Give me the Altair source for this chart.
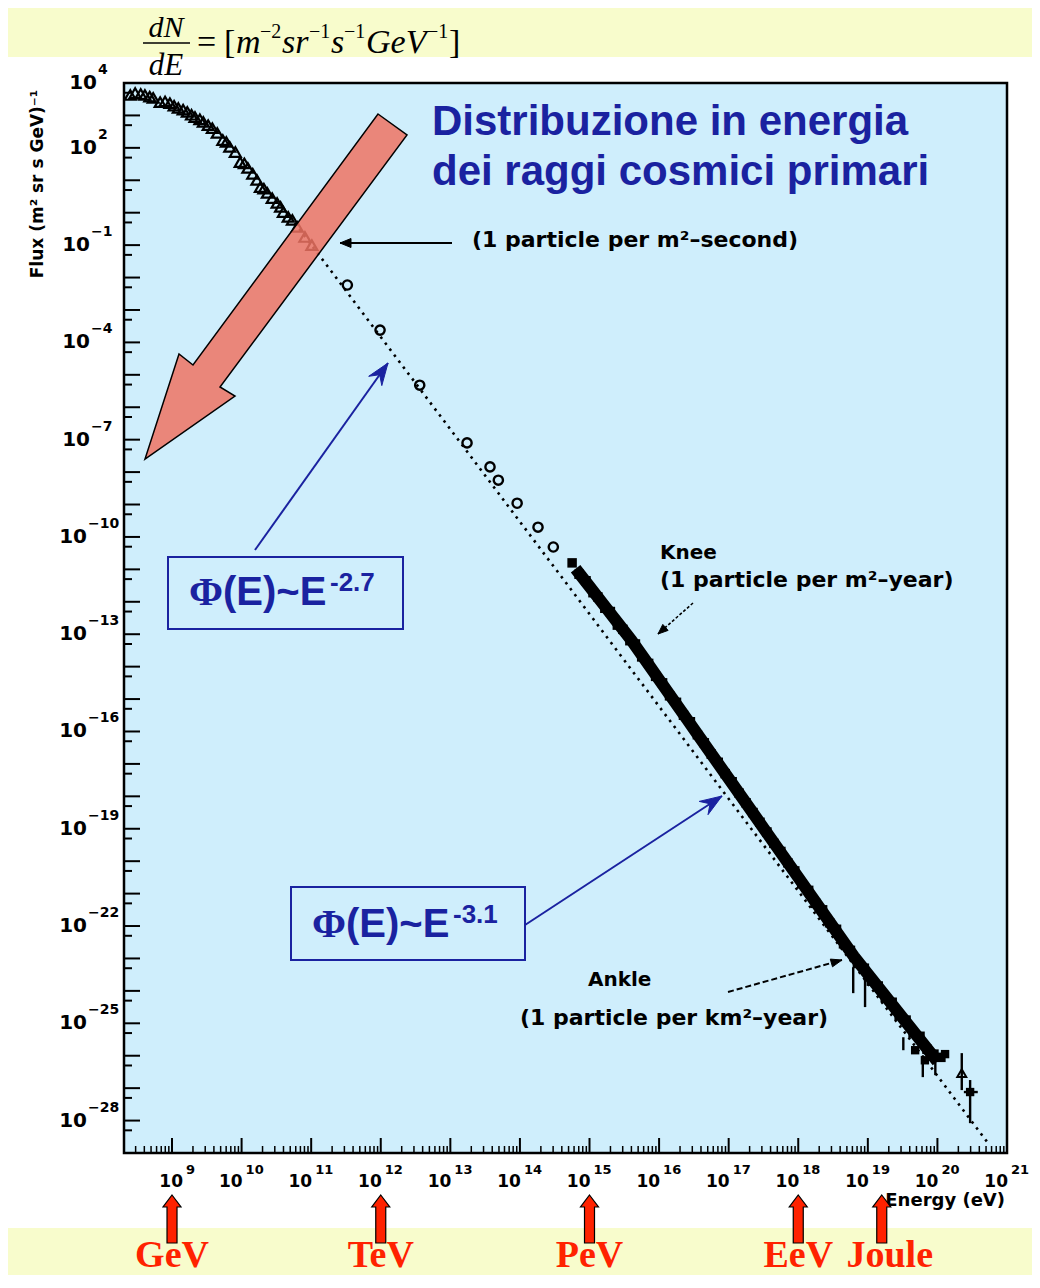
import math
import altair as alt
import pandas as pd

# ---------------- data (log10 values) ----------------
tri_logE = [8.40, 8.47, 8.55, 8.61, 8.68, 8.73, 8.83, 8.90, 8.97, 9.03, 9.09, 9.16, 9.22,
            9.28, 9.33, 9.40, 9.45, 9.52, 9.58, 9.65, 9.73, 9.78, 9.83, 9.91, 9.98,
            10.04, 10.09, 10.16, 10.22, 10.27, 10.32, 10.37, 10.44, 10.51, 10.56, 10.60,
            10.67, 10.73, 10.80, 10.91, 11.01]
tri_logF = [3.63, 3.69, 3.66, 3.63, 3.58, 3.54, 3.41, 3.43, 3.38, 3.30, 3.23, 3.18, 3.11,
            3.02, 2.95, 2.88, 2.80, 2.70, 2.61, 2.46, 2.24, 2.18, 2.03, 1.87, 1.56,
            1.52, 1.38, 1.20, 1.01, 0.79, 0.74, 0.61, 0.45, 0.30, 0.18, 0.02,
            -0.13, -0.22, -0.44, -0.75, -1.00]

circ_logE = [11.52, 11.99, 12.56, 13.24, 13.57, 13.69, 13.96, 14.26, 14.48]
circ_logF = [-2.23, -3.62, -5.32, -7.10, -7.84, -8.25, -8.96, -9.70, -10.31]

band_logE = [14.8, 15.0, 15.2, 15.4, 15.6, 15.8, 16.0, 16.2, 16.4, 16.6, 16.8, 17.0, 17.2,
             17.4, 17.6, 17.8, 18.0, 18.2, 18.4, 18.6, 18.8, 19.0, 19.2, 19.4, 19.6,
             19.8, 20.0]
band_logF = [-10.98, -11.53, -12.08, -12.63, -13.18, -13.79, -14.40, -15.01, -15.62,
             -16.23, -16.84, -17.45, -18.06, -18.67, -19.28, -19.89, -20.50, -21.11,
             -21.72, -22.33, -22.94, -23.48, -24.02, -24.56, -25.10, -25.64, -26.18]

pts_logE = [14.75, 14.85, 14.95, 15.05, 15.12, 15.22, 15.30, 15.40, 15.48, 15.58, 15.66,
            15.75, 15.85, 15.95, 16.05, 16.15, 16.25, 16.35, 16.45, 16.55, 16.65, 16.75,
            16.85, 16.95, 17.05, 17.15, 17.25, 17.35, 17.45, 17.55, 17.65, 17.75, 17.85,
            17.95, 18.05, 18.15, 18.25, 18.35, 18.45, 18.55, 18.65, 18.75, 18.85, 18.95,
            19.05, 19.15, 19.25, 19.35, 19.45, 19.55, 19.65, 19.75, 19.85, 19.95, 20.05]
pts_logF = [-10.80, -11.15, -11.35, -11.72, -11.85, -12.20, -12.30, -12.72, -12.85, -13.20,
            -13.30, -13.70, -13.90, -14.30, -14.50, -14.90, -15.10, -15.50, -15.70, -16.10,
            -16.35, -16.70, -16.95, -17.30, -17.55, -17.90, -18.20, -18.50, -18.80, -19.10,
            -19.45, -19.70, -20.05, -20.30, -20.70, -20.90, -21.30, -21.50, -21.90, -22.10,
            -22.55, -22.75, -23.15, -23.30, -23.70, -23.85, -24.20, -24.35, -24.75, -24.90,
            -25.30, -25.40, -25.80, -25.95, -26.05]

eb_logE = [18.79, 18.96, 19.51, 19.79, 19.97, 20.35, 20.47]
eb_lo = [-24.07, -24.50, -25.83, -26.66, -26.60, -27.06, -28.08]
eb_hi = [-23.27, -23.45, -25.43, -26.04, -25.92, -25.92, -26.75]

hb_lo = [19.90, 20.38]
hb_hi = [20.12, 20.58]
hb_F = [-25.98, -27.12]

hi_logE = [19.68, 19.82, 19.92, 20.11, 20.47]
hi_logF = [-25.83, -26.14, -26.02, -25.95, -27.12]
hitri_logE = [20.35]
hitri_logF = [-26.54]

fit_logE = [10.70, 20.73]
fit_logF = [-0.13, -28.70]

y_tick_exps = list(range(-28, 5))
y_label_exps = [4, 2, -1, -4, -7, -10, -13, -16, -19, -22, -25, -28]
x_label_exps = list(range(9, 22))

unit_names = ["GeV", "TeV", "PeV", "EeV", "Joule"]
unit_logE = [9, 12, 15, 18, 19.2]

# ---------------- styling ----------------
PW, PH = 883, 1070
YELLOW = "#f8fccc"
SKY = "#cfeefc"
BLUE = "#1a22a0"
RED = "#ff2200"
SALMON = "#ef7363"

xs = alt.Scale(type="log", domain=[10 ** 8.31, 1e21], nice=False)
ys = alt.Scale(type="log", domain=[1e-29, 1e4], nice=False)


def X(f="E"):
    return alt.X(f"{f}:Q", scale=xs, axis=None)


def Y(f="F"):
    return alt.Y(f"{f}:Q", scale=ys, axis=None)


one = pd.DataFrame({"k": [0]})


def df(**cols):
    return pd.DataFrame(cols)


def p10(v):
    return [10 ** a for a in v]


def rect(x1, y1, x2, y2, **kw):
    return alt.Chart(one).mark_rect(**kw).encode(
        x=alt.value(x1), y=alt.value(y1), x2=alt.value(x2), y2=alt.value(y2))


def seg(x1, y1, x2, y2, **kw):
    return alt.Chart(one).mark_rule(**kw).encode(
        x=alt.value(x1), y=alt.value(y1), x2=alt.value(x2), y2=alt.value(y2))


def shape(path, fill, stroke=None, sw=1.0, opacity=1.0):
    return alt.Chart(one).mark_point(
        shape=path, size=4, filled=True, fill=fill, stroke=stroke or fill,
        strokeWidth=sw, opacity=1, fillOpacity=opacity).encode(
        x=alt.value(0), y=alt.value(0))


def head(x1, y1, x2, y2, L=14, W=10, notch=0.0):
    dx, dy = x2 - x1, y2 - y1
    d = math.hypot(dx, dy)
    ux, uy = dx / d, dy / d
    px, py = -uy, ux
    bx, by = x2 - ux * L, y2 - uy * L
    lx, ly = bx + px * W / 2, by + py * W / 2
    rx, ry = bx - px * W / 2, by - py * W / 2
    nx, ny = x2 - ux * L * (1 - notch), y2 - uy * L * (1 - notch)
    return (f"M{x2:.1f},{y2:.1f}L{lx:.1f},{ly:.1f}L{nx:.1f},{ny:.1f}"
            f"L{rx:.1f},{ry:.1f}Z")


def txt(s, x, y, size, font="DejaVu Sans", weight="bold", color="black",
        align="left", baseline="middle", style="normal", angle=0):
    kw = dict(text=s, font=font, fontSize=size, fontWeight=weight, color=color,
              align=align, baseline=baseline, fontStyle=style)
    if angle:
        kw["angle"] = angle
    return alt.Chart(one).mark_text(**kw).encode(x=alt.value(x), y=alt.value(y))


def arrow(x1, y1, x2, y2, color, sw=1.8, L=14, W=10, notch=0.0, dash=None):
    kw = dict(color=color, strokeWidth=sw)
    if dash:
        kw["strokeDash"] = dash
    return [seg(x1, y1, x2, y2, **kw), shape(head(x1, y1, x2, y2, L, W, notch), color)]


layers = []

# panels
layers.append(rect(-116, -26, 916, 1145, color="white"))
layers.append(rect(0, 0, PW, PH, color=SKY))

# fit line (dotted)
layers.append(alt.Chart(df(E=p10(fit_logE), F=p10(fit_logF))).mark_line(
    color="black", strokeWidth=2.6, strokeDash=[2.5, 5]).encode(x=X(), y=Y()))

# data
layers.append(alt.Chart(df(E=p10(circ_logE), F=p10(circ_logF))).mark_point(
    shape="circle", size=85, filled=False, stroke="black", strokeWidth=2.4,
    opacity=1).encode(x=X(), y=Y()))
layers.append(alt.Chart(df(E=p10(tri_logE), F=p10(tri_logF))).mark_point(
    shape="triangle-up", size=120, filled=False, stroke="black", strokeWidth=2.2,
    opacity=1).encode(x=X(), y=Y()))
layers.append(alt.Chart(df(E=p10(band_logE), F=p10(band_logF))).mark_line(
    color="black", strokeWidth=12).encode(x=X(), y=Y()))
layers.append(alt.Chart(df(E=p10(pts_logE), F=p10(pts_logF))).mark_square(
    size=90, color="black", opacity=1).encode(x=X(), y=Y()))
layers.append(alt.Chart(df(E=p10(eb_logE), F=p10(eb_lo), F2=p10(eb_hi))).mark_rule(
    color="black", strokeWidth=2.4).encode(x=X(), y=Y(), y2="F2:Q"))
layers.append(alt.Chart(df(E=p10(hb_lo), E2=p10(hb_hi), F=p10(hb_F))).mark_rule(
    color="black", strokeWidth=2.4).encode(x=X(), x2="E2:Q", y=Y()))
layers.append(alt.Chart(df(E=p10(hi_logE), F=p10(hi_logF))).mark_square(
    size=70, color="black", opacity=1).encode(x=X(), y=Y()))
layers.append(alt.Chart(df(E=p10(hitri_logE), F=p10(hitri_logF))).mark_point(
    shape="triangle-up", size=80, filled=False, stroke="black", strokeWidth=2,
    opacity=1).encode(x=X(), y=Y()))

# inner ticks
layers.append(alt.Chart(df(F=[10.0 ** n for n in y_tick_exps])).mark_rule(
    color="black", strokeWidth=2).encode(y=Y(), x=alt.value(0), x2=alt.value(16)))
layers.append(alt.Chart(df(F=[5 * 10.0 ** n for n in range(-29, 4)])).mark_rule(
    color="black", strokeWidth=2).encode(y=Y(), x=alt.value(0), x2=alt.value(8)))
layers.append(alt.Chart(df(E=[10.0 ** n for n in range(9, 22)])).mark_rule(
    color="black", strokeWidth=2).encode(x=X(), y=alt.value(PH), y2=alt.value(PH - 15)))
xminor = [k * 10.0 ** n for n in range(8, 21) for k in range(2, 10)
          if 10 ** 8.32 < k * 10.0 ** n < 1e21]
layers.append(alt.Chart(df(E=xminor)).mark_rule(
    color="black", strokeWidth=1.5).encode(x=X(), y=alt.value(PH), y2=alt.value(PH - 7)))
layers.append(rect(0, 0, PW, PH, fill="transparent", stroke="black", strokeWidth=2.5))


# tick labels
def sup(n):
    return str(n).replace("-", "\u2212")


for exps, base_r in (([e for e in y_label_exps if len(sup(e)) == 1], -27),
                     ([e for e in y_label_exps if len(sup(e)) == 2], -34),
                     ([e for e in y_label_exps if len(sup(e)) == 3], -37)):
    d = df(F=[10.0 ** e for e in exps], s=[sup(e) for e in exps])
    layers.append(alt.Chart(d).mark_text(
        text="10", font="DejaVu Sans", fontWeight="bold", fontSize=20, align="right",
        baseline="middle").encode(y=Y(), x=alt.value(base_r)))
    layers.append(alt.Chart(d).mark_text(
        font="DejaVu Sans", fontWeight="bold", fontSize=14, align="left",
        baseline="middle", dy=-13).encode(y=Y(), x=alt.value(base_r + 1), text="s:N"))

for exps, bdx, edx in (([e for e in x_label_exps if e < 10], 11, 14),
                       ([e for e in x_label_exps if e >= 10], 1, 4)):
    d = df(E=[10.0 ** e for e in exps], s=[str(e) for e in exps])
    layers.append(alt.Chart(d).mark_text(
        text="10", font="DejaVu Sans", fontWeight="bold", fontSize=17, align="right",
        baseline="middle", dx=bdx).encode(x=X(), y=alt.value(1099)))
    layers.append(alt.Chart(d).mark_text(
        font="DejaVu Sans", fontWeight="bold", fontSize=13, align="left",
        baseline="middle", dx=edx).encode(x=X(), y=alt.value(1087), text="s:N"))

layers.append(txt("Energy (eV)", 881, 1118, 18, align="right"))
layers.append(txt("Flux (m\u00b2 sr s GeV)\u207b\u00b9", -86, 101, 17, align="center", angle=270))

# black annotations
layers.append(txt("(1 particle per m\u00b2\u2013second)", 348, 157, 22))
layers += arrow(328, 160, 216, 160, "black", sw=2, L=11, W=9)
layers.append(txt("Knee", 536, 470, 20))
layers.append(txt("(1 particle per m\u00b2\u2013year)", 536, 497, 22))
layers += arrow(569, 520, 534, 551, "black", sw=1.6, L=10, W=8, dash=[3, 2])
layers.append(txt("Ankle", 464, 897, 20))
layers.append(txt("(1 particle per km\u00b2\u2013year)", 396, 935, 22))
layers += arrow(604, 909, 718, 877, "black", sw=2, L=11, W=8, dash=[6, 3])

# big salmon arrow
big = [(254, 31), (283, 52), (96, 304), (111, 313), (21, 376), (55, 271), (69, 282)]
big_path = "M" + "L".join(f"{a},{b}" for a, b in big) + "Z"
layers.append(shape(big_path, SALMON, stroke="black", sw=1.5, opacity=0.85))

# blue title
layers.append(txt("Distribuzione in energia", 308, 52, 42, font="Liberation Sans",
                  color=BLUE, baseline="alphabetic"))
layers.append(txt("dei raggi cosmici primari", 308, 102, 42, font="Liberation Sans",
                  color=BLUE, baseline="alphabetic"))

# blue boxes with power laws
for (bx1, by1, bx2, by2, tx, base, ex) in ((44, 474, 279, 546, 65, 522, "-2.7"),
                                           (167, 804, 401, 877, 188, 854, "-3.1")):
    layers.append(rect(bx1, by1, bx2, by2, fill="transparent", stroke=BLUE, strokeWidth=2))
    layers.append(txt("\u03a6", tx, base, 41, font="Liberation Serif", color=BLUE,
                      baseline="alphabetic"))
    layers.append(txt("(E)~E", tx + 34, base, 40, font="Liberation Sans", color=BLUE,
                      baseline="alphabetic"))
    layers.append(txt(ex, tx + 141, base - 14, 26, font="Liberation Sans", color=BLUE,
                      baseline="alphabetic"))
layers += arrow(131, 467, 264, 280, BLUE, sw=2, L=22, W=16, notch=0.35)
layers += arrow(401, 842, 598, 713, BLUE, sw=2, L=22, W=16, notch=0.35)

# formula
layers.append(txt("dN", 42, -46, 30, font="Liberation Serif", weight="normal",
                  style="italic", align="center", baseline="alphabetic"))
layers.append(txt("dE", 42, -8, 31, font="Liberation Serif", weight="normal",
                  style="italic", align="center", baseline="alphabetic"))
layers.append(seg(19, -40, 66, -40, color="black", strokeWidth=1.5))
for s, x, it in (("=", 73, False), ("[", 100, False), ("m", 112, True), ("sr", 158, True),
                 ("s", 207, True), ("GeV", 242, True), ("]", 325, False)):
    layers.append(txt(s, x, -30, 34, font="Liberation Serif", weight="normal",
                      style="italic" if it else "normal", baseline="alphabetic"))
for s, x in (("\u22122", 136), ("\u22121", 185), ("\u22121", 220), ("\u22121", 303)):
    layers.append(txt(s, x, -45, 20, font="Liberation Serif", weight="normal",
                      baseline="alphabetic"))

# red unit arrows and labels
ud = df(E=p10(unit_logE), s=unit_names)
red_path = "M0,0L9,12L5,12L5,48L-5,48L-5,12L-9,12Z"
layers.append(alt.Chart(ud).mark_point(
    shape=red_path, size=4, filled=True, fill=RED, stroke="black", strokeWidth=1.2,
    opacity=1).encode(x=X(), y=alt.value(1112)))
layers.append(alt.Chart(ud[ud.s != "Joule"]).mark_text(
    font="Liberation Serif", fontWeight="bold", fontSize=38, color=RED, align="center",
    baseline="alphabetic").encode(x=X(), y=alt.value(1184), text="s:N"))
layers.append(alt.Chart(ud[ud.s == "Joule"]).mark_text(
    font="Liberation Serif", fontWeight="bold", fontSize=38, color=RED, align="center",
    baseline="alphabetic", dx=8).encode(x=X(), y=alt.value(1184), text="s:N"))

chart = alt.layer(*layers).properties(
    width=PW, height=PH, background=YELLOW,
    padding={"left": 116, "top": 75, "right": 25, "bottom": 122},
    autosize=alt.AutoSizeParams(type="none"),
).configure_view(stroke="transparent")

chart.save("out.html", embed_options={"renderer": "svg", "actions": False})
